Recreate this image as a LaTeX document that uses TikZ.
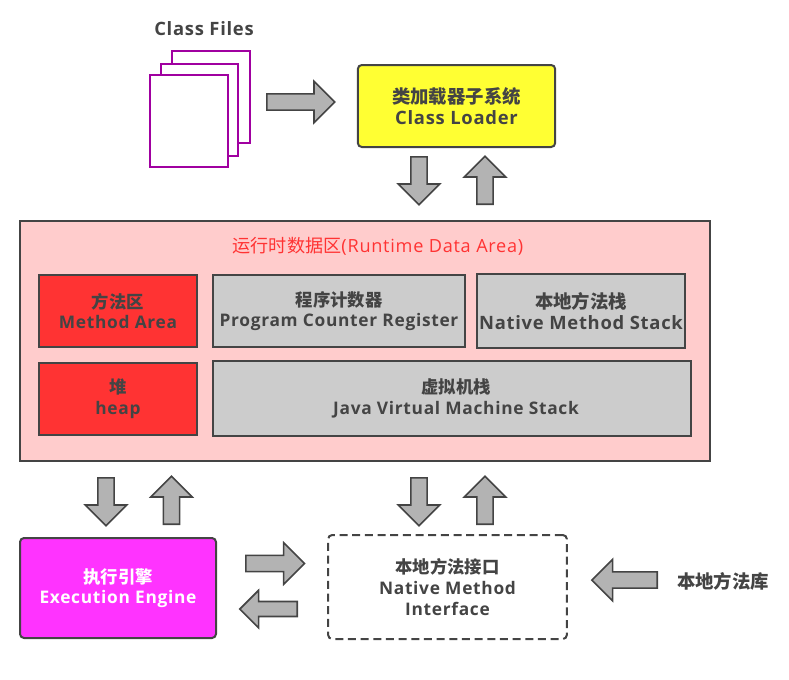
\documentclass[tikz,border=0pt]{standalone}
\usepackage{fontspec}
\setmainfont[LetterSpace=4]{Open Sans}
\newfontfamily\cjk{Noto Sans CJK SC}
\usepackage{tikz}
\usetikzlibrary{shapes.arrows}
\definecolor{edgegray}{HTML}{444444}
\definecolor{arrowgray}{HTML}{B3B3B3}
\definecolor{boxgray}{HTML}{CCCCCC}
\definecolor{areapink}{HTML}{FFCCCC}
\definecolor{areared}{HTML}{FF3333}
\definecolor{loaderyellow}{HTML}{FFFF33}
\definecolor{enginepink}{HTML}{FF33FF}
\definecolor{filepurple}{HTML}{A000A0}
\tikzstyle{label} =
[
	text=edgegray,align=center,inner sep=0pt,
	font=\bfseries\fontsize{13}{15.5}\selectfont
]
\tikzstyle{biglabel} =
[
	font=\bfseries\fontsize{13.8}{16}\selectfont
]
\tikzstyle{box} =
[
	label,draw=edgegray,rectangle,line width=1.5pt
]
\tikzstyle{roundbox} =
[
	box,rounded corners=3pt
]
\tikzstyle{filebox} =
[
	draw=filepurple,fill=white,rectangle,line width=1.5pt,
	minimum width=58pt,minimum height=69pt
]
\tikzstyle{redbox} =
[
	box,fill=areared,minimum width=118pt,minimum height=54pt
]
\tikzstyle{graybox} =
[
	box,fill=boxgray
]
\tikzstyle{bigarrow} =
[
	draw=edgegray,fill=arrowgray,single arrow,line width=1.2pt,inner xsep=0pt,inner ysep=5.5pt,
	single arrow head extend=9.5pt,single arrow tip angle=90,anchor=tail
]

\begin{document}
\begin{tikzpicture}[x=0.75pt,y=-0.75pt]
\useasboundingbox (0,0) rectangle (789,679);

\node[label, biglabel] (TFiles) at (204,29) {Class Files};
\node[filebox] (F3) at (211,97) {};
\node[filebox] (F2) at (199.5,110) {};
\node[filebox] (F1) at (189,121) {};

\node[roundbox, biglabel, fill=loaderyellow, minimum width=148pt, minimum height=61.5pt] (Loader) at (456.5,106) {{\cjk 类加载器子系统}\\Class Loader};

\node[box, fill=areapink, minimum width=517.5pt, minimum height=180pt] (Runtime) at (365,341) {};
\node[label, text=areared, font=\fontsize{13.6}{16}\selectfont] (TRuntime) at (378,246) {{\cjk 运行时数据区}(Runtime Data Area)};
\node[redbox] (Method) at (118,311) {{\cjk 方法区}\\Method Area};
\node[redbox] (Heap) at (118,399) {{\cjk 堆}\\heap};
\node[graybox, minimum width=189pt, minimum height=54pt] (Counter) at (339,311) {{\cjk 程序计数器}\\Program Counter Register};
\node[graybox, biglabel, minimum width=156pt, minimum height=55.5pt] (NStack) at (581,311) {{\cjk 本地方法栈}\\Native Method Stack};
\node[graybox, minimum width=358.5pt, minimum height=56pt] (JStack) at (452,398.5) {\hspace*{6pt}{\cjk 虚拟机栈}\\\hspace*{6pt}Java Virtual Machine Stack};

\node[roundbox, fill=enginepink, text=white, minimum width=147pt, minimum height=75pt] (Engine) at (118,588) {{\cjk 执行引擎}\\Execution Engine};
\node[roundbox, dash pattern=on 6pt off 3.5pt, minimum width=179pt, minimum height=78pt] (Interface) at (447.5,587) {{\cjk 本地方法接口}\\Native Method\\Interface};
\node[label, biglabel] (Library) at (723,581) {\cjk 本地方法库};

\node[bigarrow, minimum height=51pt] (A1) at (266,102) {};
\node[bigarrow, minimum height=36pt, rotate=-90] (A2) at (419,156) {};
\node[bigarrow, minimum height=36pt, rotate=90] (A3) at (485,205) {};
\node[bigarrow, minimum height=36pt, rotate=-90] (A4) at (106,477) {};
\node[bigarrow, minimum height=36pt, rotate=90] (A5) at (171.5,525) {};
\node[bigarrow, minimum height=36pt, rotate=-90] (A6) at (419,477) {};
\node[bigarrow, minimum height=36pt, rotate=90] (A7) at (485,525) {};
\node[bigarrow, minimum height=44pt] (A8) at (245,563.5) {};
\node[bigarrow, minimum height=43pt, inner ysep=5pt, single arrow head extend=8.5pt, rotate=180] (A9) at (298,609) {};
\node[bigarrow, minimum height=49pt, rotate=180] (A10) at (658,580) {};

\end{tikzpicture}
\end{document}
